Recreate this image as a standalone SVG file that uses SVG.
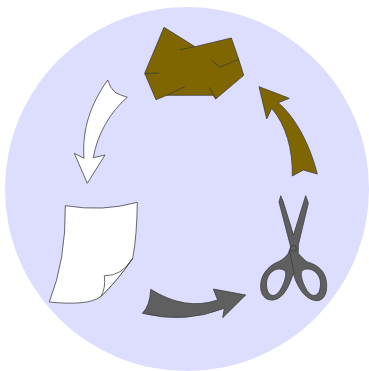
<svg xmlns="http://www.w3.org/2000/svg" width="369" height="371" viewBox="0 0 369 371">
<style>
.o{stroke:#3a3a3a;stroke-width:.75;stroke-linejoin:round}
.brown{fill:#806600}
.grey{fill:#5f5f5f}
.white{fill:#fff}
.l{fill:none;stroke:#3a3a3a;stroke-width:.75}
</style>
<rect width="369" height="371" fill="#fff"/>
<circle id="background" cx="187" cy="189" r="182" fill="#ddf"/>
<g id="connectors">
<path id="arrow-white" class="o white" d="M107.7 80 Q110 88 115 92.3 Q120 95 127.3 97.3 C110 112 97 135 93.3 157.7 L105 155 L87.3 183.3 L74.3 153.3 L84 158.3 C82 130 90 105 107.7 80Z"/>
<path id="arrow-grey" class="o grey" d="M150.7 289.3 Q185 311 217.7 300 L213.3 289 L245.7 295 L222.7 317.7 L224.3 308.3 Q185 324 142.3 313.3 Q150 306 150.7 289.3Z"/>
<path id="arrow-brown" class="o brown" d="M259 86.7 L289.3 98.3 L278.3 102.7 C296 118 310 145 317.3 174 L303.3 170 L292.3 176 C293 150 286 125 271.7 108.3 L266.7 119Z"/>
</g>
<g id="node-rock">
<path class="o brown" d="M164 27.3 L195 46.7 L231.3 38 L238.7 59.3 L243.7 75.3 L215.7 99 L213.3 95.3 L166.7 95.3 L156 99.7 L144.7 73.3Z"/>
<path class="l" d="M144.7 73.7 L159.3 73 M166.7 95.3 L185 86.7 M180 49.7 L195 46.7 M211 59.3 L219.7 67.3 L238.7 59.3 M209.3 87.3 L215.7 99"/>
</g>
<g id="node-paper">
<path class="o white" d="M65.3 205.7 Q103 212 137.3 202.3 Q137 235 132.7 258.3 Q118 280 100.7 296.7 Q88 306 49.3 302 Q66 260 65.3 205.7Z"/>
<path class="o white" d="M132.7 258.3 Q121.5 276.4 104.3 275.7 Q106 288 100.7 296.7 Q118 280 132.7 258.3Z"/>
</g>
<g id="node-scissors">
<path class="o grey" fill-rule="evenodd" d="M280.7 195.7 L283 201 L293.5 235 L304 201 L305.7 195.7 L308.3 203.3 L298.3 245 L298.3 253.3 C302 258 305 260 306.7 261.7 C314 264 326 268 326.7 285 C327 296 322 301 316.7 300.7 C304 300 296 284 293.3 273.3 C290 284 284 299 273.3 300 C265 301 260 294 260.7 285 C261 272 272 264 278.3 261.7 C282 260 286 257 288.3 253.3 L290.7 247 L279 202Z M279.5 269 C272 269 266 276 266.5 285 C267 292 269.5 295.5 273.3 295.5 C279.5 295.5 286 280 285.8 273.5 C285.5 270.5 283.5 269 279.5 269Z M307.5 269 C315 269 321 276 320.5 285 C320 292 317.5 295.5 313.7 295.5 C307.5 295.5 301 280 301.2 273.5 C301.5 270.5 303.5 269 307.5 269Z"/>
<path class="l" d="M289.3 250 L294.3 273.3"/>
<circle class="l" cx="293.3" cy="248.3" r="3"/>
</g>
</svg>
